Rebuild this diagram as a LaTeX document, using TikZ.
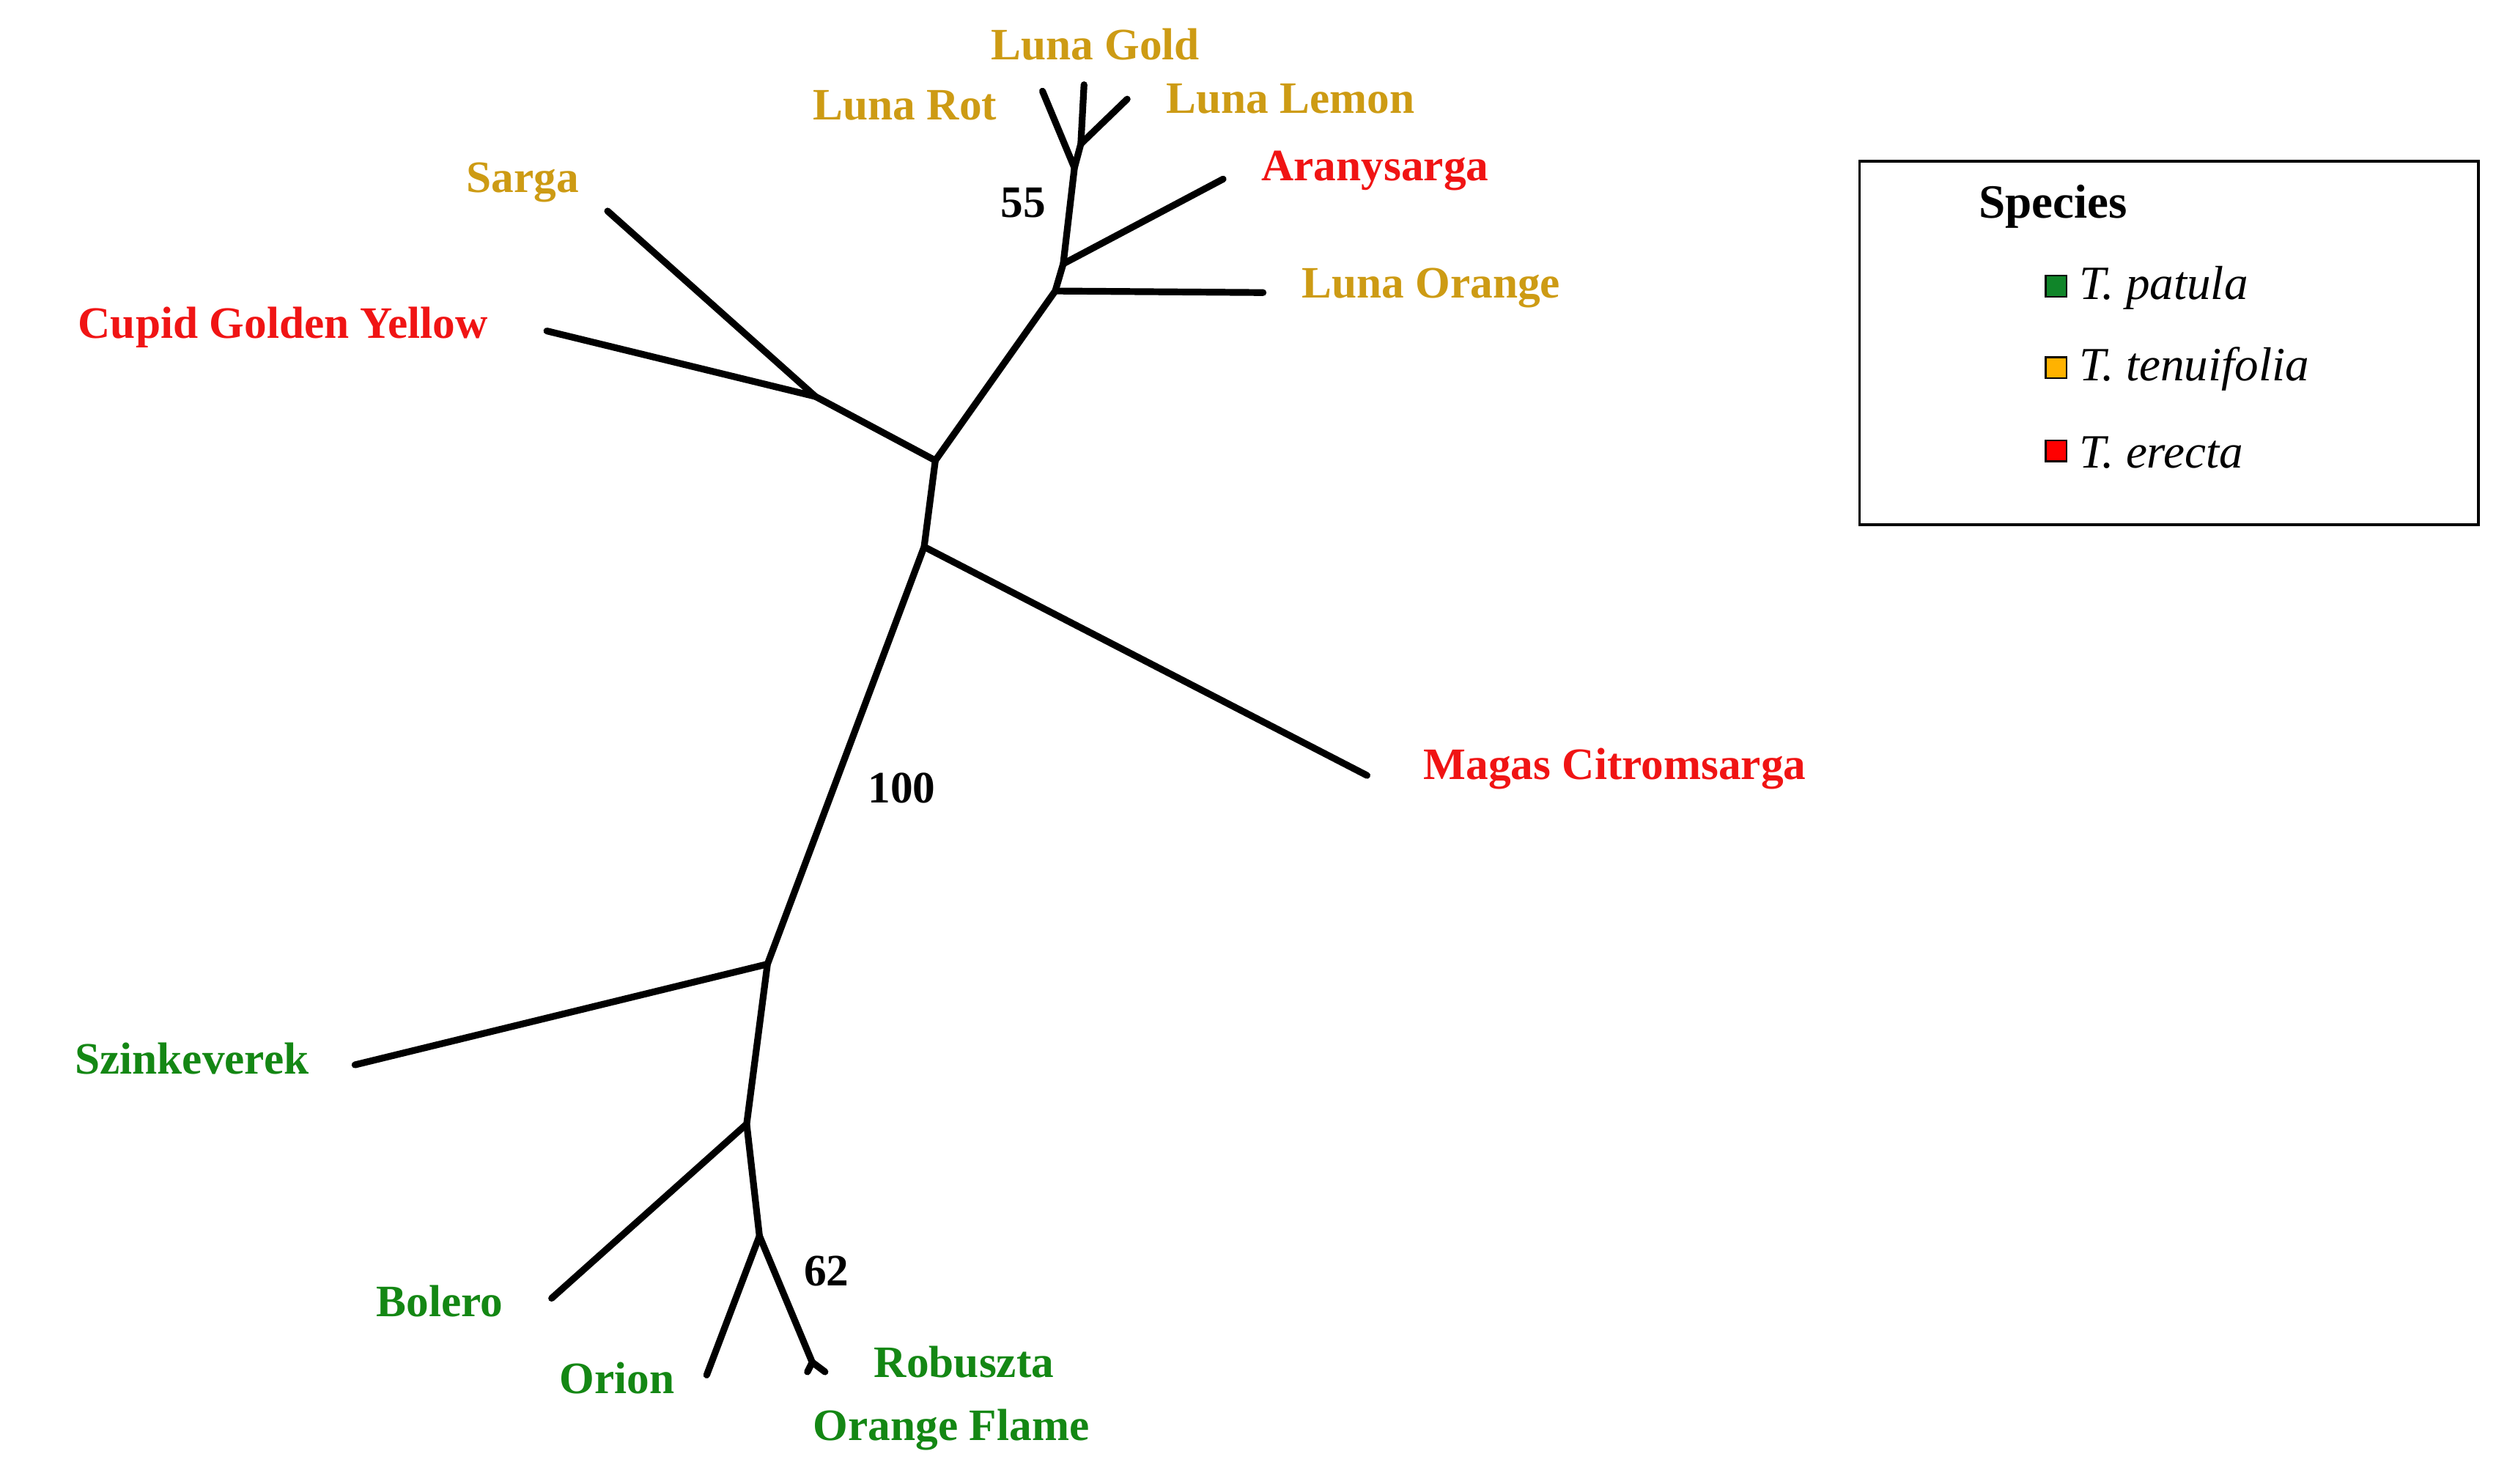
\documentclass[tikz,border=0pt]{standalone}
\usepackage{fontspec}
\setmainfont{Liberation Serif}
\definecolor{tgold}{RGB}{205,155,20}
\definecolor{tred}{RGB}{240,20,20}
\definecolor{tgreen}{RGB}{20,135,20}
\begin{document}
\begin{tikzpicture}[x=0.02cm,y=-0.02cm,
  br/.style={line width=2.4pt,line cap=round,line join=round},
  lab/.style={font=\fontsize{16}{18}\selectfont\bfseries,inner sep=0pt},
  sq/.style={draw=black,line width=0.6pt,minimum size=0.26cm,inner sep=0pt}]
\useasboundingbox (0,0) rectangle (1568,928);
% internal nodes
\coordinate (A) at (585,288);
\coordinate (B) at (578,342);
\coordinate (C) at (660,182);
\coordinate (D) at (665,165);
\coordinate (E) at (672,105);
\coordinate (E2) at (676,90);
\coordinate (F) at (510,248);
\coordinate (G) at (480,603);
\coordinate (H) at (467,703);
\coordinate (I) at (475,773);
\coordinate (I2) at (508,852);
% tips
\coordinate (tLO) at (790,183);
\coordinate (tAr) at (765,112);
\coordinate (tLR) at (652,57);
\coordinate (tLG) at (678,53);
\coordinate (tLL) at (705,62);
\coordinate (tSa) at (380,132);
\coordinate (tCu) at (342,207);
\coordinate (tMa) at (855,485);
\coordinate (tSz) at (222,666);
\coordinate (tBo) at (345,812);
\coordinate (tOr) at (442,860);
\coordinate (tRo) at (505,858);
\coordinate (tOF) at (516,858);
\draw[br] (A) -- (B) -- (G) -- (H) -- (I) -- (I2);
\draw[br] (I2) -- (tRo); \draw[br] (I2) -- (tOF);
\draw[br] (A) -- (C) -- (D) -- (E) -- (E2) -- (tLG);
\draw[br] (E) -- (tLR); \draw[br] (E2) -- (tLL);
\draw[br] (C) -- (tLO); \draw[br] (D) -- (tAr);
\draw[br] (A) -- (F) -- (tSa); \draw[br] (F) -- (tCu);
\draw[br] (B) -- (tMa);
\draw[br] (G) -- (tSz); \draw[br] (H) -- (tBo); \draw[br] (I) -- (tOr);
% labels
\node[lab,tgold] (nLG) at (685,28) {Luna Gold};
\node[lab,tgold] (nLR) at (566,66) {Luna Rot};
\node[lab,tgold] (nLL) at (807,62) {Luna Lemon};
\node[lab,tred] (nAr) at (860,107) {Aranysarga};
\node[lab,tgold] (nLO) at (895,180) {Luna Orange};
\node[lab,tgold] (nSa) at (327,114) {Sarga};
\node[lab,tred] (nCu) at (177,205) {Cupid Golden Yellow};
\node[lab,tred] (nMa) at (1010,481) {Magas Citromsarga};
\node[lab,tgreen] (nSz) at (120,662) {Szinkeverek};
\node[lab,tgreen] (nBo) at (275,814) {Bolero};
\node[lab,tgreen] (nOr) at (386,862) {Orion};
\node[lab,tgreen] (nRo) at (603,852) {Robuszta};
\node[lab,tgreen] (nOF) at (595,894) {Orange Flame};
\node[lab] (b55) at (640,127) {55};
\node[lab] (b100) at (564,493) {100};
\node[lab] (b62) at (517,795) {62};
% legend
\draw[line width=1pt] (1163,101) rectangle (1550,328);
\node[font=\fontsize{17}{20}\selectfont\bfseries,inner sep=0pt] (sp) at (1284,129) {Species};
\node[sq,fill=tgreen!80!teal] (s1) at (1286,179) {};
\node[sq,fill=orange!60!yellow] (s2) at (1286,230) {};
\node[sq,fill=red] (s3) at (1286,282) {};
\node[anchor=west,font=\fontsize{17}{20}\selectfont\itshape,inner sep=0pt] (l1) at (1300,180) {T. patula};
\node[anchor=west,font=\fontsize{17}{20}\selectfont\itshape,inner sep=0pt] (l2) at (1300,231) {T. tenuifolia};
\node[anchor=west,font=\fontsize{17}{20}\selectfont\itshape,inner sep=0pt] (l3) at (1300,283) {T. erecta};
\end{tikzpicture}
\end{document}
